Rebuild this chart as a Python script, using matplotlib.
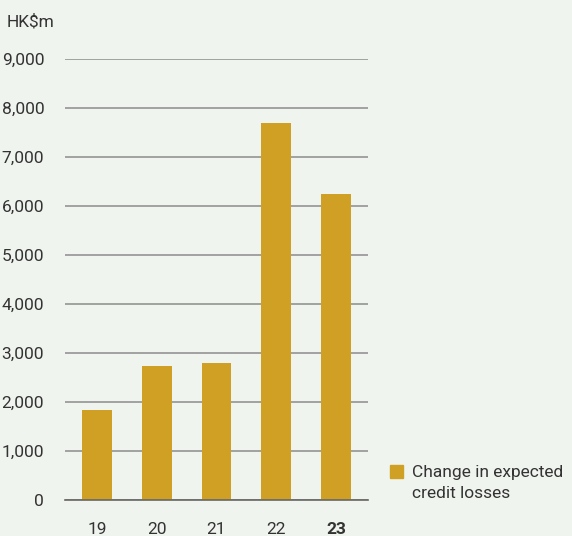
import matplotlib
matplotlib.use("Agg")
import matplotlib.pyplot as plt
from matplotlib.patches import Rectangle

years = ["19", "20", "21", "22", "23"]
values = [1840, 2740, 2800, 7690, 6245]
yticks = [0, 1000, 2000, 3000, 4000, 5000, 6000, 7000, 8000, 9000]
unit_label = "HK$m"
legend_label = "Change in expected\ncredit losses"

bg = "#f0f4ef"
bar_color = "#cfa023"
text_color = "#333333"
grid_color = "#939393"

plt.rcParams['font.family'] = ['Roboto', 'DejaVu Sans']

W, H = 572, 536
fig = plt.figure(figsize=(W / 100, H / 100), dpi=100, facecolor=bg)
ax = fig.add_axes([65 / W, 36 / H, 303 / W, 441 / H], facecolor=bg)

x = list(range(len(years)))
ax.bar(x, values, width=0.5, color=bar_color, zorder=3)
ax.set_xlim(-0.533, len(years) - 1 + 0.533)
ax.set_ylim(0, 9000)
ax.set_yticks(yticks)
ax.set_yticklabels([f"{v:,}" for v in yticks], fontsize=12.5, color=text_color)
ax.yaxis.grid(True, color=grid_color, linewidth=1.2, zorder=1)
ax.set_xticks(x)
ax.set_xticklabels(years, fontsize=12.5, color=text_color)
for lbl in ax.get_xticklabels():
    if lbl.get_text() == years[-1]:
        lbl.set_fontweight("bold")
ax.tick_params(axis='y', length=0, pad=15)
ax.tick_params(axis='x', length=0, pad=16)
for s in ax.spines.values():
    s.set_visible(False)
ax.axhline(0, color="#666666", linewidth=1.2, zorder=4, clip_on=False)

fig.text(7 / W, 1 - 22 / H, unit_label, fontsize=12.5, color=text_color, va="center", ha="left")

fig.patches.append(Rectangle((390 / W, 1 - 478 / H), 13 / W, 13 / H,
                             transform=fig.transFigure, color=bar_color, figure=fig))
fig.text(412 / W, 1 - 483 / H, legend_label, fontsize=12.5, color=text_color,
         va="center", ha="left", linespacing=1.5)

fig.savefig("out.png", dpi=100, facecolor=bg)
